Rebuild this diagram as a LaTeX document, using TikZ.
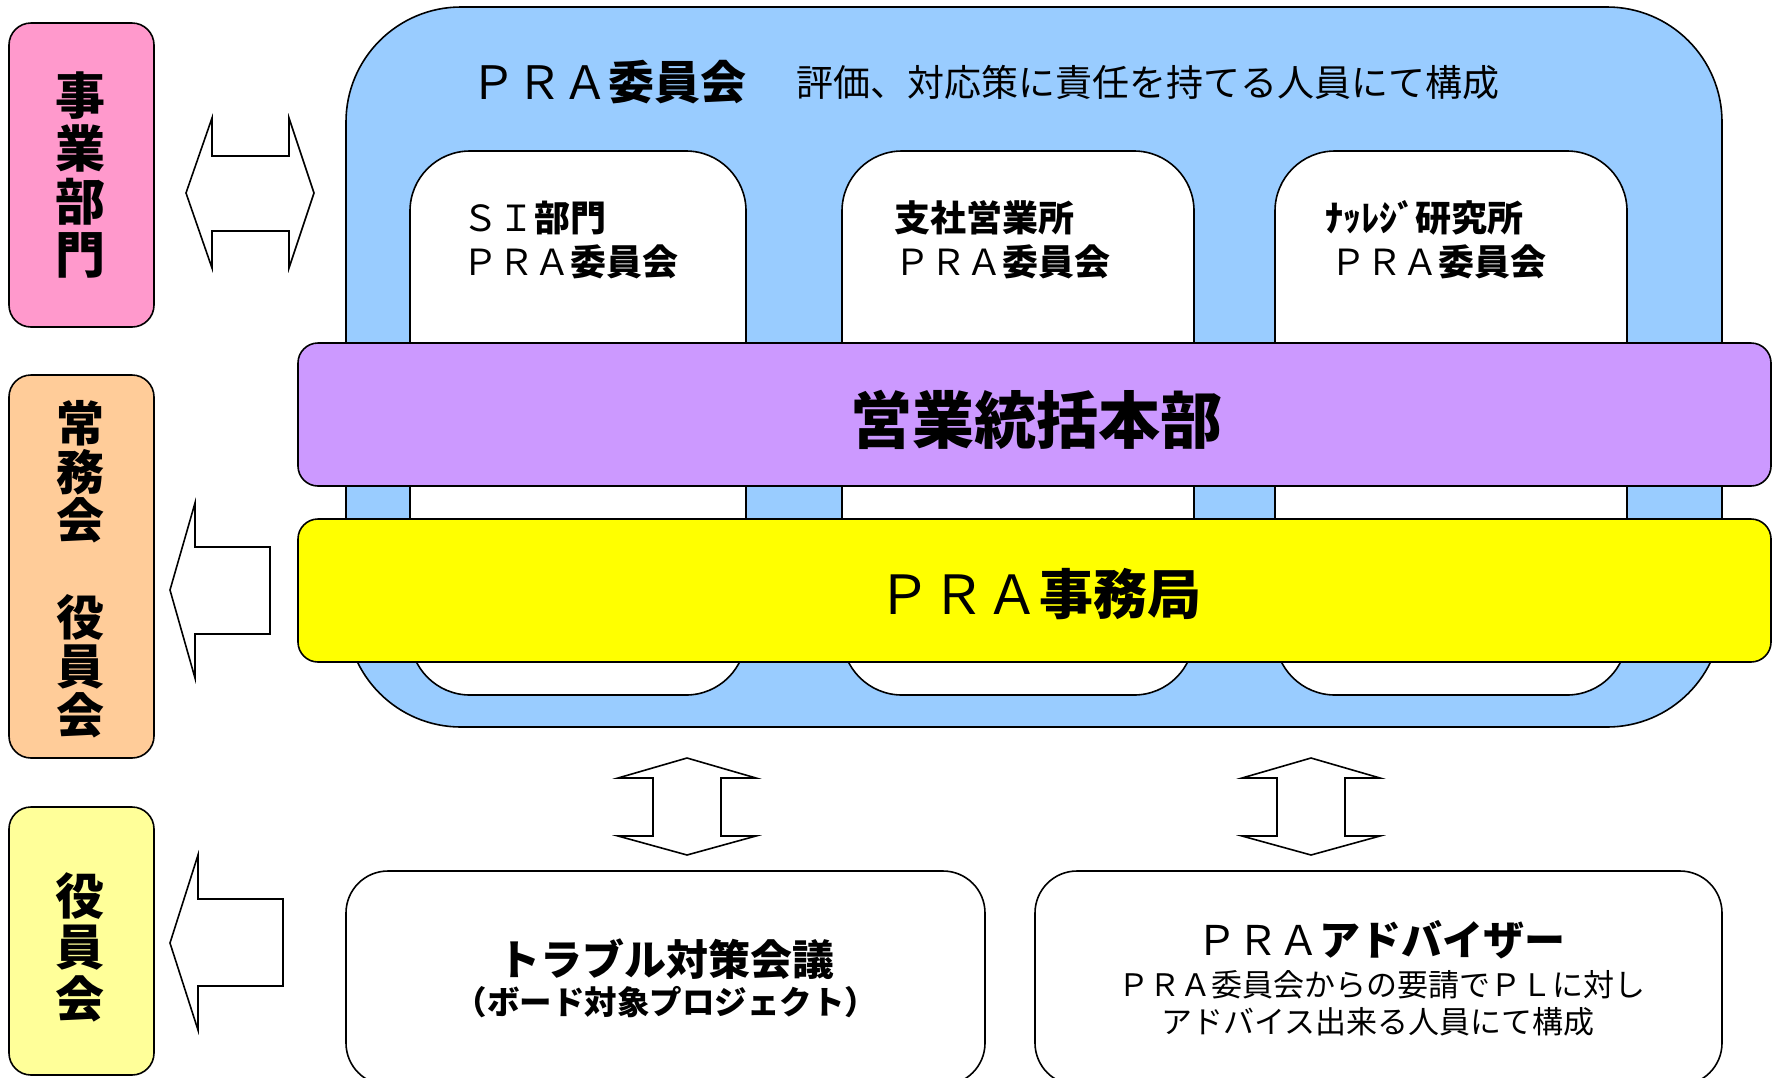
\documentclass[tikz,border=0pt]{standalone}
\usepackage{fontspec}
\setmainfont{Noto Sans CJK JP}
\definecolor{cpink}{HTML}{FF99CC}
\definecolor{corange}{HTML}{FFCC99}
\definecolor{clyellow}{HTML}{FFFF99}
\definecolor{cblue}{HTML}{99CCFF}
\definecolor{cpurple}{HTML}{CC99FF}
\definecolor{cyellow}{HTML}{FFFF00}
\newcommand{\fs}[2]{\fontsize{#1}{#2}\selectfont}
\begin{document}
\begin{tikzpicture}[x=1pt,y=-1pt,
  outl/.style={draw=black,line width=1.6pt},
  bigarrow/.style={outl,fill=white,line join=miter},
  txt/.style={inner sep=0pt,outer sep=0pt,text=black},
  box/.style={outl,rectangle,inner sep=0pt}]
\useasboundingbox (0,0) rectangle (1780,1077);

% left side boxes
\node[box,fill=cpink,rounded corners=22pt,minimum width=145pt,minimum height=304pt] (jigyo) at (81.5,175) {};
\node[txt,align=center,font=\fs{50}{53}\bfseries] (jigyoT) at (80,175) {事\\業\\部\\門};
\node[box,fill=corange,rounded corners=22pt,minimum width=145pt,minimum height=383pt] (jomu) at (81.5,566.5) {};
\node[txt,align=center,font=\fs{48}{48.6}\bfseries] (jomuT) at (80,569) {常\\務\\会\\　\\役\\員\\会};
\node[box,fill=clyellow,rounded corners=22pt,minimum width=145pt,minimum height=268pt] (yakuin) at (81.5,941) {};
\node[txt,align=center,font=\fs{49}{51.5}\bfseries] (yakuinT) at (80,947) {役\\員\\会};

% big blue committee box
\node[box,fill=cblue,rounded corners=115pt,minimum width=1376pt,minimum height=720pt] (pra) at (1034,367) {};
\node[txt,font=\fs{46}{50}] (praT) at (608,82) {ＰＲＡ\bfseries 委員会};
\node[txt,font=\fs{37}{40}] (praD) at (1148,82) {評価、対応策に責任を持てる人員にて構成};

% inner white boxes
\node[box,fill=white,rounded corners=60pt,minimum width=336pt,minimum height=544pt] (si) at (578,423) {};
\node[box,fill=white,rounded corners=60pt,minimum width=352pt,minimum height=544pt] (shisha) at (1018,423) {};
\node[box,fill=white,rounded corners=60pt,minimum width=352pt,minimum height=544pt] (knw) at (1451,423) {};
\node[txt,anchor=west,align=left,font=\fs{36}{44}] (siT) at (462,240) {ＳＩ\bfseries 部門\\ＰＲＡ\bfseries 委員会};
\node[txt,anchor=west,align=left,font=\fs{36}{44}] (shishaT) at (894,240) {\bfseries 支社営業所\\ＰＲＡ\bfseries 委員会};
\node[txt,anchor=west,align=left,font=\fs{36}{44}] (knwT) at (1325,240) {\bfseries ﾅｯﾚｼﾞ研究所\\\hspace*{5pt}ＰＲＡ\bfseries 委員会};

% bars
\node[box,fill=cpurple,rounded corners=20pt,minimum width=1473pt,minimum height=143pt] (eigyo) at (1034.5,414.5) {};
\node[txt,font=\fs{62}{66}\bfseries] (eigyoT) at (1036,420) {営業統括本部};
\node[box,fill=cyellow,rounded corners=20pt,minimum width=1473pt,minimum height=143pt] (jimu) at (1034.5,590.5) {};
\node[txt,font=\fs{54}{58}] (jimuT) at (1039,594) {ＰＲＡ\bfseries 事務局};

% bottom boxes
\node[box,fill=white,rounded corners=42pt,minimum width=639pt,minimum height=214pt] (trouble) at (665.5,978) {};
\node[txt,font=\fs{42}{46}\bfseries] (troubleT) at (666,959) {トラブル対策会議};
\node[txt,font=\fs{32.5}{34}\bfseries] (troubleS) at (666,1002) {（ボード対象プロジェクト）};
\node[box,fill=white,rounded corners=42pt,minimum width=687pt,minimum height=214pt] (adv) at (1378.5,978) {};
\node[txt,font=\fs{41}{45}] (advT) at (1381,940) {ＰＲＡ\bfseries アドバイザー};
\node[txt,font=\fs{31}{34}] (advS1) at (1382,985) {ＰＲＡ委員会からの要請でＰＬに対し};
\node[txt,font=\fs{31}{34}] (advS2) at (1378,1022) {アドバイス出来る人員にて構成};

% block arrows
\draw[bigarrow] (186,193) -- (212,118) -- (212,156) -- (289,156) -- (289,118) -- (314,193)
  -- (289,268) -- (289,231) -- (212,231) -- (212,268) -- cycle;
\draw[bigarrow] (170,590) -- (195,503) -- (195,547) -- (270,547) -- (270,634) -- (195,634) -- (195,678) -- cycle;
\draw[bigarrow] (170,943) -- (198,855) -- (198,899) -- (283,899) -- (283,986) -- (198,986) -- (198,1030) -- cycle;
\draw[bigarrow] (687,758) -- (756,778) -- (721,778) -- (721,836) -- (756,836) -- (687,855)
  -- (618,836) -- (653,836) -- (653,778) -- (618,778) -- cycle;
\draw[bigarrow] (1311,758) -- (1380,778) -- (1345,778) -- (1345,836) -- (1380,836) -- (1311,855)
  -- (1242,836) -- (1277,836) -- (1277,778) -- (1242,778) -- cycle;
\end{tikzpicture}
\end{document}
